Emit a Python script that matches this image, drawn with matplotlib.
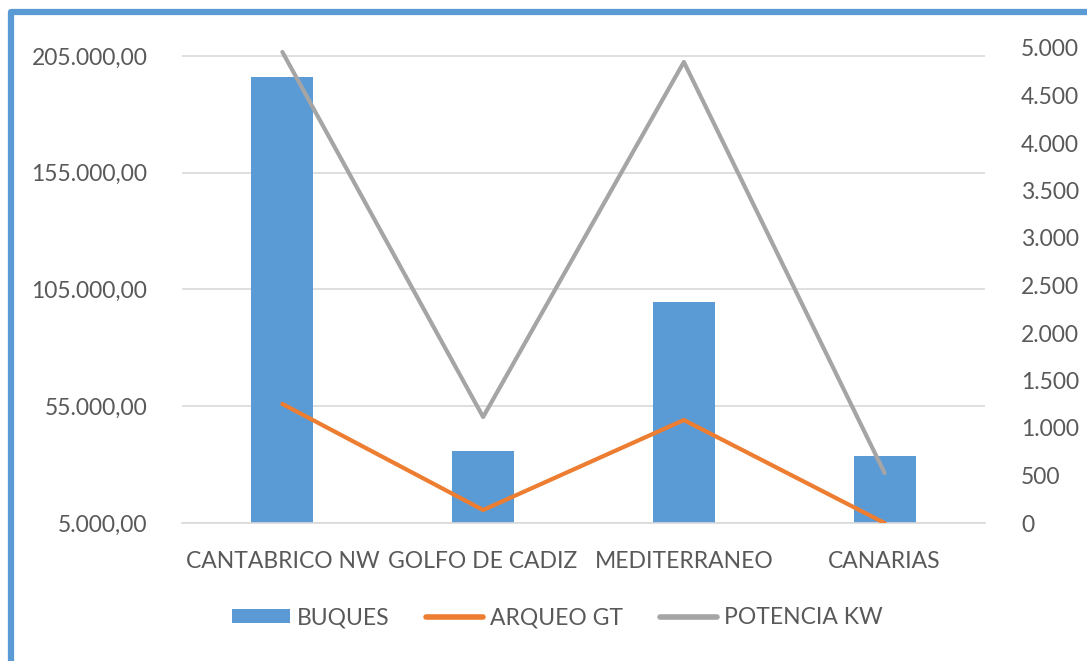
import matplotlib
matplotlib.use("Agg")
import matplotlib.pyplot as plt
from matplotlib.ticker import FuncFormatter, FixedLocator
from matplotlib.lines import Line2D
from matplotlib.patches import Patch
import numpy as np

categories = ["CANTABRICO NW", "GOLFO DE CADIZ", "MEDITERRANEO", "CANARIAS"]
buques = [196000, 35800, 99650, 33700]
arqueo_gt = [1253, 137, 1084, 0]
potencia_kw = [4958, 1116, 4853, 526]
left_ticks = [5000, 55000, 105000, 155000, 205000]
right_ticks = list(range(0, 5001, 500))

BLUE = "#5B9BD5"
ORANGE = "#ED7D31"
GRAY = "#A5A5A5"
TXT = "#595959"
GRID = "#D9D9D9"

plt.rcParams['font.family'] = ['Lato', 'DejaVu Sans']
FS = 16.5

W, H = 1087, 661
fig = plt.figure(figsize=(W / 100, H / 100), dpi=100)
L, R, T, B = 182, 985, 48, 523
ax = fig.add_axes([L / W, 1 - B / H, (R - L) / W, (B - T) / H])

x = np.arange(len(categories))
ax.bar(x, buques, width=0.31, color=BLUE, zorder=2)
ax.set_xlim(-0.5, len(categories) - 0.5)
ax.set_ylim(5000, 208400)
ax.yaxis.set_major_locator(FixedLocator(left_ticks))


def fmt_left(v, pos):
    s = f"{v:,.2f}"
    return s.replace(",", "X").replace(".", ",").replace("X", ".")


def fmt_right(v, pos):
    return f"{int(v):,}".replace(",", ".")


ax.yaxis.set_major_formatter(FuncFormatter(fmt_left))
ax.set_xticks(x)
ax.set_xticklabels(categories)
ax.grid(axis="y", color=GRID, linewidth=1.2)
ax.set_axisbelow(True)
for s in ["top", "left", "right"]:
    ax.spines[s].set_visible(False)
ax.spines["bottom"].set_color(GRID)
ax.spines["bottom"].set_linewidth(1.2)
ax.tick_params(axis="both", length=0, labelsize=FS, labelcolor=TXT)
ax.tick_params(axis="y", pad=25)
ax.tick_params(axis="x", pad=20)

ax2 = ax.twinx()
ax2.plot(x, arqueo_gt, color=ORANGE, linewidth=3.0, solid_capstyle="round",
         solid_joinstyle="round", zorder=3)
ax2.plot(x, potencia_kw, color=GRAY, linewidth=3.0, solid_capstyle="round",
         solid_joinstyle="round", zorder=3)
ax2.set_ylim(0, 5000)
ax2.yaxis.set_major_locator(FixedLocator(right_ticks))
ax2.yaxis.set_major_formatter(FuncFormatter(fmt_right))
for s in ax2.spines.values():
    s.set_visible(False)
ax2.tick_params(axis="y", length=0, labelsize=FS, labelcolor=TXT, pad=26)

handles = [Patch(facecolor=BLUE, edgecolor="none"),
           Line2D([0], [0], color=ORANGE, linewidth=4, solid_capstyle="round"),
           Line2D([0], [0], color=GRAY, linewidth=4, solid_capstyle="round")]
labels = ["BUQUES", "ARQUEO GT", "POTENCIA KW"]
leg = fig.legend(handles, labels, loc="center", ncol=3,
                 bbox_to_anchor=(557.5 / W, 1 - 618 / H), frameon=False,
                 fontsize=FS, handlelength=2.5, handleheight=0.55,
                 handletextpad=0.3, columnspacing=1.6)
for t in leg.get_texts():
    t.set_color(TXT)

# chart border (blue, left and top)
bx = [10.5 / W, 10.5 / W, 1.0]
by = [0.0, 1 - 12 / H, 1 - 12 / H]
fig.add_artist(Line2D(bx, by, color=BLUE, linewidth=4.5, transform=fig.transFigure,
                      solid_joinstyle="round"))

fig.savefig("out.png", dpi=100)
